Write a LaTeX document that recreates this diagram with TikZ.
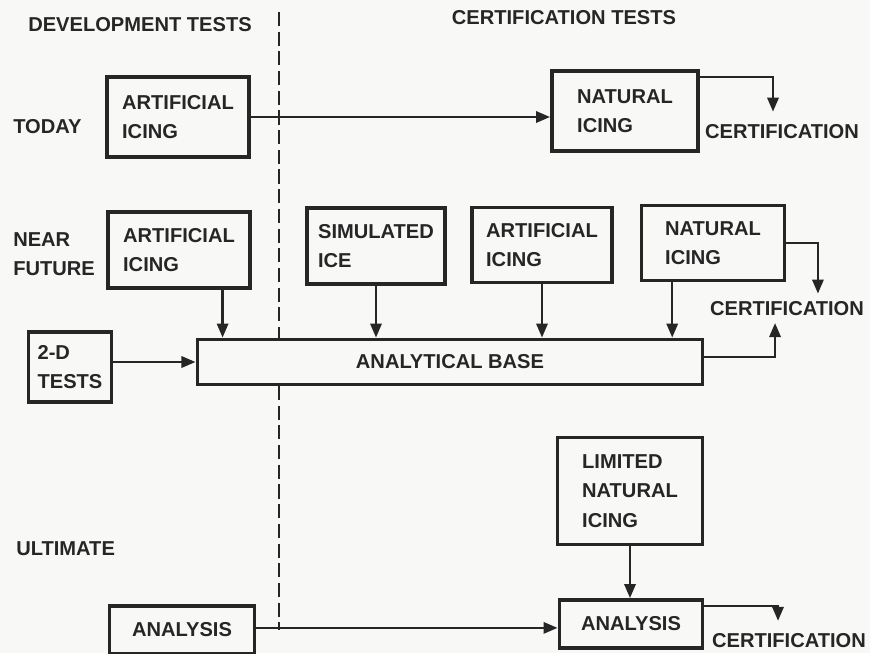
\documentclass[tikz,border=0pt]{standalone}
\usepackage{fontspec}
\setmainfont{Liberation Sans}
\usetikzlibrary{arrows.meta}

\definecolor{paper}{RGB}{248,248,247}
\definecolor{ink}{RGB}{38,38,38}

\begin{document}
\begin{tikzpicture}[x=0.025cm, y=-0.025cm, line width=1.8pt, color=ink,
    >={Triangle[length=10pt, width=8pt]},
    font=\fontsize{14.3}{21}\selectfont\bfseries,
    box/.style={draw, fill=paper, line width=2.7pt, inner sep=0pt, align=left},
    lbl/.style={inner sep=2pt}]
    \fill[paper] (0,0) rectangle (870,653);
    \useasboundingbox (0,0) rectangle (870,653);

    % column split
    \coordinate (DL) at (279,12);
    \node[lbl] at (140,25) (DT) {DEVELOPMENT TESTS};
    \node[lbl] at (564,18) (CT) {CERTIFICATION TESTS};
    \node[inner sep=0pt, anchor=west] at (12,127) (TOD) {TODAY};
    \node[inner sep=0pt, anchor=west, align=left] at (12,254) (NF) {NEAR\\FUTURE};
    \node[inner sep=0pt, anchor=west] at (15,549) (ULT) {ULTIMATE};

    % today
    \node[box, minimum width=3.55cm, minimum height=2cm] at (178,117) (AI) {ARTIFICIAL\\ICING};
    \node[box, minimum width=3.65cm, minimum height=2cm] at (625,111) (NI) {NATURAL\\ICING};
    \node[lbl] at (782,132) (C1) {CERTIFICATION};

    % near future
    \node[box, minimum width=3.55cm, minimum height=1.9cm] at (179,250) (AI2) {ARTIFICIAL\\ICING};
    \node[box, minimum width=3.45cm, minimum height=1.9cm] at (376,246) (SI) {SIMULATED\\ICE};
    \node[box, minimum width=3.5cm, minimum height=1.875cm] at (542,245) (AI3) {ARTIFICIAL\\ICING};
    \node[box, minimum width=3.575cm, minimum height=1.875cm] at (713,243) (NI2) {NATURAL\\ICING};
    \node[box, minimum width=2.075cm, minimum height=1.75cm] at (70,367) (TD) {2-D\\TESTS};
    \node[lbl] at (787,309) (C2) {CERTIFICATION};

    % ultimate
    \node[box, minimum width=3.625cm, minimum height=2.675cm] at (630,491) (LNI) {LIMITED\\NATURAL\\ICING};
    \node[box, minimum width=3.625cm, minimum height=1.2cm] at (182,630) (AN1) {ANALYSIS};
    \node[lbl] at (789,641) (C3) {CERTIFICATION};

    \draw[line width=2pt, dash pattern=on 10pt off 4pt] (DL) -- (DL |- AN1.east);
    \node[box, minimum width=12.625cm, minimum height=1.125cm, align=center] at (450,362) (AB) {ANALYTICAL BASE};
    \node[box, minimum width=3.575cm, minimum height=1.2cm] at (631,624) (AN2) {ANALYSIS};

    \draw[->] (AI.east) -- (AI.east -| NI.west);
    \draw[->] ([yshift=-5.7pt]NI.north east) -| ([xshift=-6.4pt, yshift=6.5pt]C1.north);

    \draw[->] ([xshift=31pt]AI2.south) -- ([xshift=31pt]AI2.south |- AB.north);
    \draw[->] (SI.south) -- (SI.south |- AB.north);
    \draw[->] (AI3.south) -- (AI3.south |- AB.north);
    \draw[->] ([xshift=-29pt]NI2.south) -- ([xshift=-29pt]NI2.south |- AB.north);
    \draw[->] (TD.east |- AB.west) -- (AB.west);
    \draw[->] (NI2.east) -| ([xshift=22pt, yshift=3pt]C2.north);
    \draw[->] ([yshift=3.5pt]AB.east) -| ([xshift=-8.5pt, yshift=-2pt]C2.south);

    \draw[->] (LNI.south) -- (LNI.south |- AN2.north);
    \draw[->] ([yshift=1.5pt]AN1.east) -- ([yshift=1.5pt]AN1.east -| AN2.west);
    \draw[->] ([yshift=-5.7pt]AN2.north east) -| ([xshift=-7.8pt, yshift=6.4pt]C3.north);

\end{tikzpicture}
\end{document}
